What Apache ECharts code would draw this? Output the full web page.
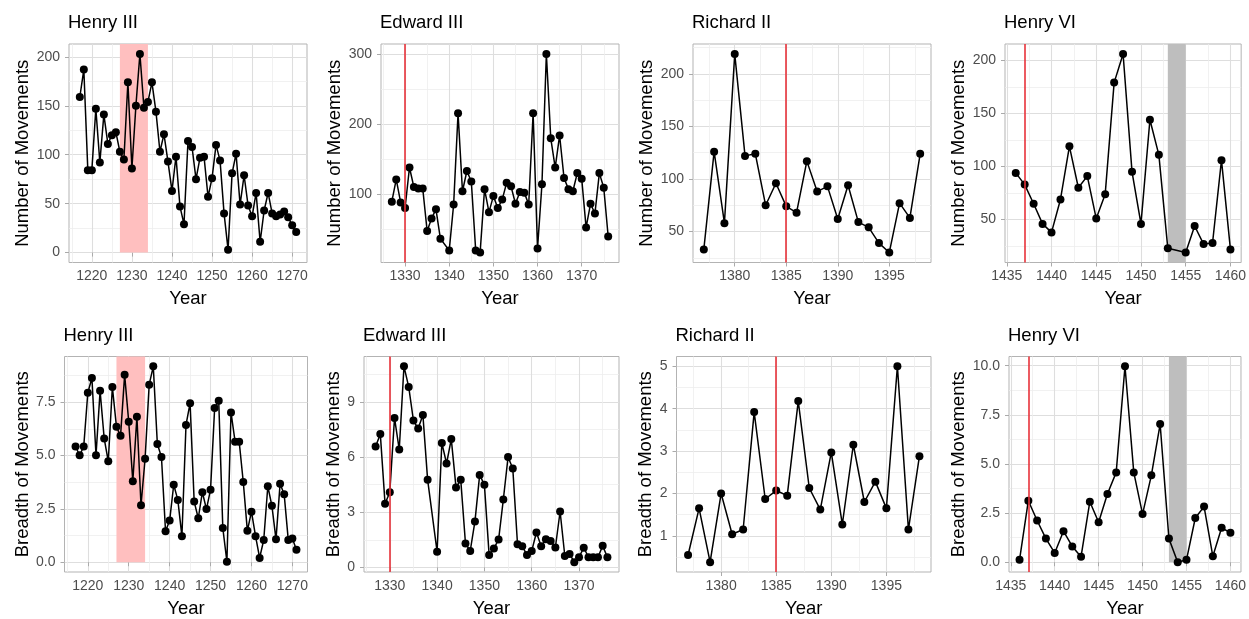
<!DOCTYPE html>
<html lang="en">
<head>
<meta charset="utf-8">
<title>Movements by reign</title>
<script src="https://cdn.jsdelivr.net/npm/echarts@6.0.0/dist/echarts.min.js"></script>
<style>
  html, body { margin: 0; padding: 0; background: #fff; }
  #chart { width: 1249px; height: 619px; }
</style>
</head>
<body>
<div id="chart"></div>
<script>
// ---- data ----
var henry3Years = [1217,1218,1219,1220,1221,1222,1223,1224,1225,1226,1227,1228,1229,1230,1231,1232,1233,1234,1235,1236,
  1237,1238,1239,1240,1241,1242,1243,1244,1245,1246,1247,1248,1249,1250,1251,1252,1253,1254,1255,1256,
  1257,1258,1259,1260,1261,1262,1263,1264,1265,1266,1267,1268,1269,1270,1271];
var henry3Moves = [159,187,84,84,147,92,141,111,120,123,103,95,174,86,150,203,148,154,174,144,
  103,121,93,63,98,47,29,114,108,75,97,98,57,76,110,94,40,3,81,101,
  49,79,48,37,61,11,43,61,40,37,39,42,36,28,21];
var henry3Breadth = [5.42,5.01,5.42,7.94,8.63,5.01,8.03,5.80,4.73,8.21,6.35,5.92,8.78,6.58,3.79,6.81,2.67,4.85,8.32,9.18,
  5.54,4.93,1.45,1.95,3.63,2.92,1.22,6.43,7.45,2.84,2.06,3.28,2.49,3.40,7.22,7.56,1.60,0.02,7.02,5.65,
  5.65,3.76,1.47,2.37,1.22,0.20,1.04,3.56,2.64,1.07,3.68,3.18,1.04,1.11,0.58];

var edward3Years = [1327,1328,1329,1330,1331,1332,1333,1334,1335,1336,1337,1338,
  1340,1341,1342,1343,1344,1345,1346,1347,1348,1349,1350,1351,1352,1353,1354,1355,1356,1357,1358,1359,
  1360,1361,1362,1363,1364,1365,1366,1367,1368,1369,1370,1371,1372,1373,1374,1375,1376];
var edward3Moves = [89,121,88,80,138,110,108,108,47,65,78,36,
  19,85,216,104,133,118,19,16,107,74,97,80,92,116,111,86,103,102,85,216,
  22,114,301,180,138,184,123,107,104,130,122,52,86,72,130,109,39];
var edward3Breadth = [6.57,7.25,3.46,4.09,8.13,6.41,10.94,9.82,7.99,7.55,8.29,4.76,
  0.85,6.77,5.65,6.98,4.35,4.76,1.30,0.89,2.50,5.03,4.49,0.67,1.03,1.51,3.69,6.00,5.38,1.26,1.15,0.67,
  0.89,1.90,1.15,1.53,1.44,1.08,3.04,0.62,0.73,0.28,0.55,1.07,0.55,0.55,0.55,1.17,0.55];

var richard2Years = [1377,1378,1379,1380,1381,1382,1383,1384,1385,1386,1387,1388,1389,1390,1391,1392,1393,1394,1395,1396,1397,1398];
var richard2Moves = [33,126,58,219,122,124,75,96,74,68,117,88,93,62,94,59,54,39,30,77,63,124];
var richard2Breadth = [0.55,1.65,0.38,2.00,1.04,1.15,3.92,1.87,2.07,1.95,4.18,2.13,1.62,2.97,1.27,3.15,1.80,2.28,1.65,5.00,1.15,2.88];

var henry6Years = [1436,1437,1438,1439,1440,1441,1442,1443,1444,1445,1446,1447,1448,1449,1450,1451,1452,1453,1454,1455,1456,1457,1458,1459,1460];
// no count recorded for 1454
var henry6Moves = [94,83,65,46,38,69,119,80,91,51,74,179,206,95,46,144,111,23,null,19,44,27,28,106,22];
var henry6Breadth = [0.12,3.13,2.12,1.20,0.47,1.58,0.80,0.28,3.08,2.03,3.47,4.57,9.97,4.57,2.45,4.42,7.03,1.20,0,0.12,2.25,2.83,0.30,1.75,1.50];

// ---- ticks ----
var henry3XTicks = [1220,1230,1240,1250,1260,1270];
var henry3XMinor = [1215,1225,1235,1245,1255,1265];
var edward3XTicks = [1330,1340,1350,1360,1370];
var edward3XMinor = [1325,1335,1345,1355,1365,1375];
var richard2XTicks = [1380,1385,1390,1395];
var richard2XMinor = [1377.5,1382.5,1387.5,1392.5,1397.5];
var henry6XTicks = [1435,1440,1445,1450,1455,1460];
var henry6XMinor = [1437.5,1442.5,1447.5,1452.5,1457.5];

var movesTicksH3 = [0,50,100,150,200], movesMinorH3 = [25,75,125,175];
var movesTicksE3 = [100,200,300], movesMinorE3 = [50,150,250];
var movesTicksR2 = [50,100,150,200], movesMinorR2 = [25,75,125,175,225];
var movesTicksH6 = [50,100,150,200], movesMinorH6 = [25,75,125,175];
var breadthTicksH3 = [0,2.5,5,7.5], breadthMinorH3 = [1.25,3.75,6.25,8.75];
var breadthTicksE3 = [0,3,6,9], breadthMinorE3 = [1.5,4.5,7.5,10.5];
var breadthTicksR2 = [1,2,3,4,5], breadthMinorR2 = [0.5,1.5,2.5,3.5,4.5];
var breadthTicksH6 = [0,2.5,5,7.5,10], breadthMinorH6 = [1.25,3.75,6.25,8.75];

// reign events
var henry3Span = [1227, 1234];
var henry6Span = [1453, 1455];
var edward3Line = 1330, richard2Line = 1385, henry6Line = 1437;

var FONT = '"Liberation Sans", Arial, Helvetica, sans-serif';

// box = [left, top, width, height] of the plot panel
var panels = [
  {title:'Henry III', yName:'Number of Movements', years:henry3Years, vals:henry3Moves, xt:henry3XTicks, xm:henry3XMinor,
   yt:movesTicksH3, ym:movesMinorH3, dec:0, box:[69,44,238,218.5], gap:35.7, span:henry3Span, spanColor:'#FFBFBF', spanFromZero:true},
  {title:'Edward III', yName:'Number of Movements', years:edward3Years, vals:edward3Moves, xt:edward3XTicks, xm:edward3XMinor,
   yt:movesTicksE3, ym:movesMinorE3, dec:0, box:[381,44,238,218.5], gap:35.5, vline:edward3Line},
  {title:'Richard II', yName:'Number of Movements', years:richard2Years, vals:richard2Moves, xt:richard2XTicks, xm:richard2XMinor,
   yt:movesTicksR2, ym:movesMinorR2, dec:0, box:[693,44,238,218.5], gap:35.2, vline:richard2Line},
  {title:'Henry VI', yName:'Number of Movements', years:henry6Years, vals:henry6Moves, xt:henry6XTicks, xm:henry6XMinor,
   yt:movesTicksH6, ym:movesMinorH6, dec:0, box:[1005,44,238,218.5], gap:35, vline:henry6Line, span:henry6Span, spanColor:'#BEBEBE', spanFromZero:false},
  {title:'Henry III', yName:'Breadth of Movements', years:henry3Years, vals:henry3Breadth, xt:henry3XTicks, xm:henry3XMinor,
   yt:breadthTicksH3, ym:breadthMinorH3, dec:1, box:[64.5,356.5,243,218], gap:31.2, span:henry3Span, spanColor:'#FFBFBF', spanFromZero:true},
  {title:'Edward III', yName:'Breadth of Movements', years:edward3Years, vals:edward3Breadth, xt:edward3XTicks, xm:edward3XMinor,
   yt:breadthTicksE3, ym:breadthMinorE3, dec:0, box:[364,356.5,255,218], gap:18.5, vline:edward3Line},
  {title:'Richard II', yName:'Breadth of Movements', years:richard2Years, vals:richard2Breadth, xt:richard2XTicks, xm:richard2XMinor,
   yt:breadthTicksR2, ym:breadthMinorR2, dec:0, box:[676.5,356.5,254.5,218], gap:18.7, vline:richard2Line},
  {title:'Henry VI', yName:'Breadth of Movements', years:henry6Years, vals:henry6Breadth, xt:henry6XTicks, xm:henry6XMinor,
   yt:breadthTicksH6, ym:breadthMinorH6, dec:1, box:[1009,356.5,234,218], gap:39.5, vline:henry6Line, span:henry6Span, spanColor:'#BEBEBE', spanFromZero:true}
];

var grids = [], xAxes = [], yAxes = [], series = [], titles = [];

function expand(lo, hi) {
  var pad = (hi - lo) * 0.05;
  return [lo - pad, hi + pad];
}

panels.forEach(function (p, i) {
  var data = [];
  for (var k = 0; k < p.years.length; k++) {
    if (p.vals[k] !== null) data.push([p.years[k], p.vals[k]]);
  }
  var ys = data.map(function (d) { return d[1]; });
  var lo = Math.min.apply(null, ys), hi = Math.max.apply(null, ys);
  if (p.span && p.spanFromZero) lo = Math.min(lo, 0);
  var yr = expand(lo, hi);
  var xr = expand(p.years[0], p.years[p.years.length - 1]);

  grids.push({left:p.box[0], top:p.box[1], width:p.box[2], height:p.box[3],
    show:true, borderColor:'#B3B3B3', borderWidth:1, backgroundColor:'transparent'});

  titles.push({text:p.title, left:p.box[0] - 1, top:p.box[1] - 30.5, padding:0,
    textStyle:{fontSize:18.5, fontWeight:'normal', color:'#000', fontFamily:FONT}});

  // major x
  xAxes.push({type:'value', gridIndex:i, min:xr[0], max:xr[1], position:'bottom',
    name:'Year', nameLocation:'middle', nameGap:27,
    nameTextStyle:{fontSize:18.5, color:'#000', fontFamily:FONT},
    axisLine:{show:false},
    axisTick:{show:true, length:4, lineStyle:{color:'#AAAAAA'}, customValues:p.xt},
    axisLabel:{customValues:p.xt, margin:7, fontSize:14, color:'#4D4D4D', fontFamily:FONT,
      formatter:function (v) { return String(v); }},
    splitLine:{show:true, lineStyle:{color:'#DEDEDE', width:1.1}}});
  // minor x
  xAxes.push({type:'value', gridIndex:i, min:xr[0], max:xr[1], position:'top',
    axisLine:{show:false}, axisTick:{show:false, customValues:p.xm},
    axisLabel:{show:false, customValues:p.xm},
    splitLine:{show:true, lineStyle:{color:'#EDEDED', width:0.8}}});

  var dec = p.dec;
  yAxes.push({type:'value', gridIndex:i, min:yr[0], max:yr[1], position:'left',
    name:p.yName, nameLocation:'middle', nameGap:p.gap,
    nameTextStyle:{fontSize:18.5, color:'#000', fontFamily:FONT},
    axisLine:{show:false},
    axisTick:{show:true, length:4, lineStyle:{color:'#AAAAAA'}, customValues:p.yt},
    axisLabel:{customValues:p.yt, margin:9, fontSize:14, color:'#4D4D4D', fontFamily:FONT,
      formatter:function (v) { return Number(v).toFixed(dec); }},
    splitLine:{show:true, lineStyle:{color:'#DEDEDE', width:1.1}}});
  yAxes.push({type:'value', gridIndex:i, min:yr[0], max:yr[1], position:'right',
    axisLine:{show:false}, axisTick:{show:false, customValues:p.ym},
    axisLabel:{show:false, customValues:p.ym},
    splitLine:{show:true, lineStyle:{color:'#EDEDED', width:0.8}}});

  var s = {type:'line', xAxisIndex:i * 2, yAxisIndex:i * 2, data:data,
    symbol:'circle', symbolSize:8, showSymbol:true,
    itemStyle:{color:'#000'}, lineStyle:{color:'#000', width:1.5},
    emphasis:{disabled:true}, silent:true, z:3};

  if (p.span) {
    s.markArea = {silent:true, itemStyle:{color:p.spanColor, opacity:1},
      data:[[{xAxis:p.span[0], yAxis:p.spanFromZero ? 0 : yr[0]}, {xAxis:p.span[1], yAxis:yr[1]}]]};
  }
  if (p.vline !== undefined) {
    s.markLine = {silent:true, symbol:['none', 'none'], label:{show:false},
      lineStyle:{color:'#E8323A', width:1.6, type:'solid'}, animation:false,
      data:[{xAxis:p.vline}]};
  }
  series.push(s);
});

var chart = echarts.init(document.getElementById('chart'), null, {renderer:'canvas'});
chart.setOption({
  backgroundColor:'#fff',
  animation:false,
  title:titles,
  grid:grids,
  xAxis:xAxes,
  yAxis:yAxes,
  series:series
});
</script>
</body>
</html>
